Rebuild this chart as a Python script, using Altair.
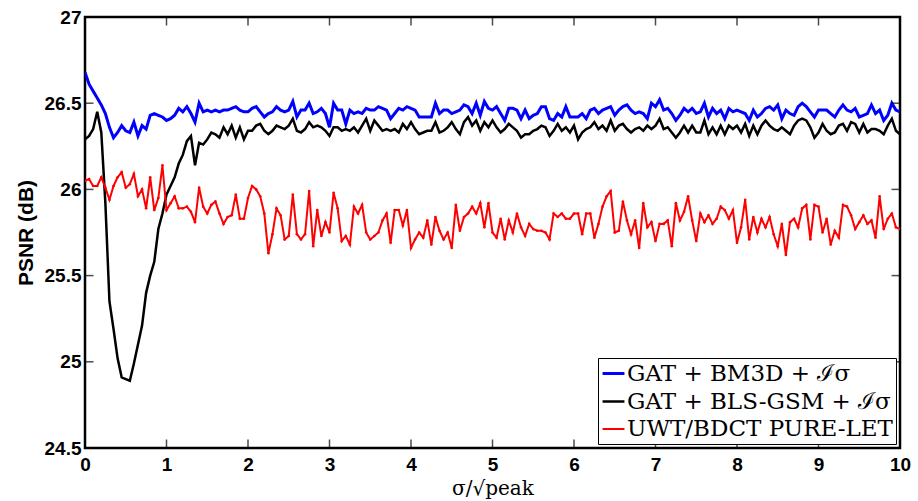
import altair as alt
import pandas as pd

S1 = "GAT + BM3D + ℐσ"
S2 = "GAT + BLS-GSM + ℐσ"
S3 = "UWT/BDCT PURE-LET"

blue = [
    26.68, 26.61, 26.57, 26.53, 26.49, 26.44, 26.36, 26.30, 26.33, 26.37,
    26.34, 26.33, 26.39, 26.31, 26.37, 26.35, 26.43, 26.44, 26.43, 26.42,
    26.40, 26.41, 26.43, 26.47, 26.45, 26.48, 26.44, 26.39, 26.50, 26.45,
    26.46, 26.45, 26.46, 26.45, 26.46, 26.46, 26.47, 26.48, 26.46, 26.45,
    26.45, 26.47, 26.48, 26.45, 26.42, 26.44, 26.45, 26.48,
    26.46, 26.45, 26.46, 26.51, 26.42, 26.46, 26.46, 26.50, 26.44, 26.45,
    26.47, 26.44, 26.36, 26.50, 26.46, 26.46, 26.38, 26.46, 26.44, 26.45,
    26.44, 26.47, 26.46, 26.46, 26.48, 26.47, 26.46, 26.41, 26.44, 26.47,
    26.46, 26.48, 26.47, 26.46, 26.42, 26.42, 26.42, 26.42, 26.50, 26.44,
    26.46, 26.46, 26.44, 26.45, 26.46, 26.49, 26.48, 26.44, 26.50, 26.43,
    26.51, 26.47, 26.46, 26.48,
    26.44, 26.40, 26.47, 26.47, 26.46, 26.41, 26.46, 26.41, 26.43, 26.44,
    26.48, 26.48, 26.41, 26.40, 26.44, 26.42, 26.48, 26.42, 26.42, 26.42,
    26.44, 26.41, 26.46, 26.47, 26.44, 26.46, 26.47, 26.48, 26.43, 26.46,
    26.48, 26.49, 26.46, 26.44, 26.45, 26.44, 26.41, 26.50, 26.48, 26.52,
    26.46, 26.47, 26.44, 26.40, 26.43, 26.47, 26.45, 26.47, 26.44,
    26.45, 26.50, 26.42, 26.47, 26.44, 26.46, 26.41, 26.47, 26.45, 26.46,
    26.45, 26.44, 26.40, 26.46, 26.42, 26.44, 26.47, 26.48, 26.46, 26.49,
    26.41, 26.46, 26.44, 26.43, 26.48, 26.50, 26.48, 26.45, 26.42, 26.46,
    26.46, 26.46, 26.44, 26.42, 26.46, 26.49, 26.46, 26.45, 26.47, 26.42,
    26.43, 26.44, 26.49, 26.44, 26.46, 26.40, 26.43, 26.50, 26.46, 26.45,
]

black = [
    26.29, 26.31, 26.35, 26.45, 26.33, 25.92, 25.35, 25.19, 25.02, 24.91,
    24.90, 24.89, 24.99, 25.10, 25.21, 25.40, 25.50, 25.58, 25.77, 25.86,
    25.97, 26.02, 26.07, 26.15, 26.20, 26.28, 26.31, 26.14, 26.27, 26.26,
    26.29, 26.33, 26.32, 26.30, 26.36, 26.32, 26.37, 26.30, 26.36, 26.29,
    26.34, 26.34, 26.37, 26.38, 26.34, 26.32, 26.34, 26.37,
    26.36, 26.35, 26.37, 26.41, 26.34, 26.33, 26.35, 26.39, 26.36, 26.37,
    26.36, 26.34, 26.31, 26.36, 26.36, 26.34, 26.35, 26.34, 26.36, 26.33,
    26.37, 26.41, 26.34, 26.40, 26.37, 26.34, 26.35, 26.34, 26.35, 26.33,
    26.38, 26.35, 26.39, 26.35, 26.32, 26.33, 26.34, 26.34, 26.39, 26.33,
    26.34, 26.36, 26.39, 26.35, 26.32, 26.39, 26.42, 26.37, 26.40, 26.34,
    26.39, 26.36, 26.40, 26.36,
    26.33, 26.35, 26.38, 26.36, 26.34, 26.30, 26.32, 26.32, 26.34, 26.35,
    26.37, 26.36, 26.31, 26.34, 26.38, 26.34, 26.36, 26.33, 26.37, 26.29,
    26.33, 26.35, 26.36, 26.39, 26.35, 26.37, 26.34, 26.40, 26.34, 26.37,
    26.38, 26.35, 26.33, 26.35, 26.36, 26.34, 26.37, 26.35, 26.37, 26.41,
    26.35, 26.36, 26.33, 26.30, 26.33, 26.37, 26.33, 26.37, 26.33,
    26.33, 26.40, 26.32, 26.36, 26.32, 26.37, 26.32, 26.37, 26.35, 26.37,
    26.33, 26.38, 26.31, 26.37, 26.32, 26.37, 26.40, 26.37, 26.35, 26.34,
    26.36, 26.34, 26.32, 26.37, 26.40, 26.41, 26.40, 26.36, 26.30, 26.33,
    26.38, 26.34, 26.32, 26.33, 26.37, 26.38, 26.34, 26.39, 26.38, 26.33,
    26.38, 26.33, 26.35, 26.35, 26.34, 26.32, 26.37, 26.41, 26.34, 26.32,
]

red = [
    26.05, 26.06, 26.02, 26.02, 26.07, 26.01, 25.94, 26.02, 26.07, 26.10,
    26.01, 26.03, 26.09, 25.96, 26.00, 25.89, 26.07, 25.88, 25.95, 26.14,
    25.88, 25.92, 25.96, 25.89, 25.89, 25.90, 25.87, 25.81, 26.01, 25.90,
    25.86, 25.91, 25.93, 25.86, 25.80, 25.84, 25.85, 25.97, 25.83, 25.83,
    25.95, 26.02, 26.00, 25.96, 25.86, 25.63, 25.74, 25.89,
    25.85, 25.71, 25.73, 25.97, 25.74, 25.71, 25.74, 25.99, 25.67, 25.88,
    25.73, 25.81, 25.75, 25.98, 25.89, 25.70, 25.73, 25.68, 25.90, 25.86,
    25.91, 25.75, 25.71, 25.73, 25.75, 25.82, 25.86, 25.69, 25.88, 25.88,
    25.79, 25.88, 25.66, 25.71, 25.75, 25.72, 25.82, 25.68, 25.84, 25.76,
    25.71, 25.75, 25.66, 25.91, 25.76, 25.84, 25.86, 25.90, 25.86, 25.92,
    25.78, 25.92, 25.75, 25.72,
    25.83, 25.71, 25.82, 25.75, 25.86, 25.78, 25.73, 25.80, 25.77, 25.76,
    25.76, 25.75, 25.71, 25.86, 25.84, 25.86, 25.83, 25.83, 25.86, 25.86,
    25.74, 25.86, 25.86, 25.72, 25.80, 25.90, 25.96, 25.99, 25.75, 25.76,
    25.93, 25.82, 25.74, 25.82, 25.66, 25.92, 25.78, 25.81, 25.70, 25.80,
    25.80, 25.82, 25.67, 25.92, 25.82, 25.87, 25.96, 25.82, 25.70,
    25.86, 25.81, 25.85, 25.80, 25.83, 25.90, 25.88, 25.83, 25.88, 25.69,
    25.78, 25.94, 25.71, 25.84, 25.75, 25.83, 25.78, 25.84, 25.74, 25.67,
    25.80, 25.62, 25.81, 25.83, 25.78, 25.89, 25.91, 25.71, 25.91, 25.90,
    25.75, 25.83, 25.68, 25.76, 25.72, 25.91, 25.90, 25.85, 25.77, 25.81,
    25.85, 25.80, 25.82, 25.72, 25.96, 25.77, 25.83, 25.86, 25.78, 25.77,
]

x_ticks = [0, 1, 2, 3, 4, 5, 6, 7, 8, 9, 10]
y_ticks = [24.5, 25, 25.5, 26, 26.5, 27]

rows = []
for name, vals in [(S1, blue), (S2, black), (S3, red)]:
    n = len(vals)
    for i, v in enumerate(vals):
        rows.append({"x": 10 * i / (n - 1), "psnr": v, "method": name})
df = pd.DataFrame(rows)

W, H = 815, 431
order = [S1, S2, S3]

x_enc = alt.X(
    "x:Q",
    scale=alt.Scale(domain=[0, 10], nice=False),
    axis=alt.Axis(
        values=x_ticks, format="d", title="σ/√peak", grid=False, domain=False,
        ticks=False, labelFont="Liberation Sans", labelFontWeight="bold",
        labelFontSize=19, labelColor="black", labelPadding=7, labelFlush=False,
        titleFont="DejaVu Serif", titleFontSize=20, titleFontWeight="normal",
        titleColor="black", titlePadding=4,
    ),
)
y_enc = alt.Y(
    "psnr:Q",
    scale=alt.Scale(domain=[24.5, 27], nice=False, zero=False),
    axis=alt.Axis(
        values=y_ticks, format="~g", title="PSNR (dB)", grid=False, domain=False,
        ticks=False, labelFont="Liberation Sans", labelFontWeight="bold",
        labelFontSize=19, labelColor="black", labelPadding=4, labelFlush=False,
        titleFont="Liberation Sans", titleFontSize=21, titleFontWeight="bold",
        titleColor="black", titlePadding=8,
    ),
)

lines = alt.Chart(df).mark_line(clip=True).encode(
    x=x_enc,
    y=y_enc,
    color=alt.Color(
        "method:N",
        scale=alt.Scale(domain=order, range=["#0000ff", "#000000", "#ff0000"]),
        sort=order,
        legend=alt.Legend(
            title=None, orient="bottom-right", offset=4, fillColor="white",
            strokeColor="black", padding=3, cornerRadius=0,
            labelFont="DejaVu Serif", labelFontSize=23, labelColor="black",
            labelLimit=500, symbolType="stroke", symbolSize=480,
            symbolStrokeWidth=2, rowPadding=3, labelOffset=1,
        ),
    ),
    strokeWidth=alt.StrokeWidth(
        "method:N", scale=alt.Scale(domain=order, range=[3, 2, 1.3]), legend=None
    ),
    detail="method:N",
)

points = alt.Chart(df).transform_filter(
    alt.datum.method == S3
).mark_circle(color="#ff0000", size=7, opacity=1, clip=True).encode(
    x="x:Q", y="psnr:Q"
)

ytdf = pd.DataFrame({"psnr": y_ticks})
xtdf = pd.DataFrame({"x": x_ticks})
tick_style = dict(color="black", thickness=1.5, size=9)
left_ticks = alt.Chart(ytdf).mark_tick(**tick_style).encode(y="psnr:Q", x=alt.value(4))
right_ticks = alt.Chart(ytdf).mark_tick(**tick_style).encode(y="psnr:Q", x=alt.value(W - 4))
bottom_ticks = alt.Chart(xtdf).mark_tick(**tick_style).encode(x="x:Q", y=alt.value(H - 4))
top_ticks = alt.Chart(xtdf).mark_tick(**tick_style).encode(x="x:Q", y=alt.value(4))

chart = alt.layer(
    lines, points, left_ticks, right_ticks, bottom_ticks, top_ticks
).properties(
    width=W, height=H,
    autosize=alt.AutoSizeParams(type="none"),
    padding={"left": 85, "top": 17, "right": 18, "bottom": 53},
    background="white",
).configure_view(stroke="black", strokeWidth=2.5)

chart.save("out.html", embed_options={"renderer": "svg", "actions": False})
